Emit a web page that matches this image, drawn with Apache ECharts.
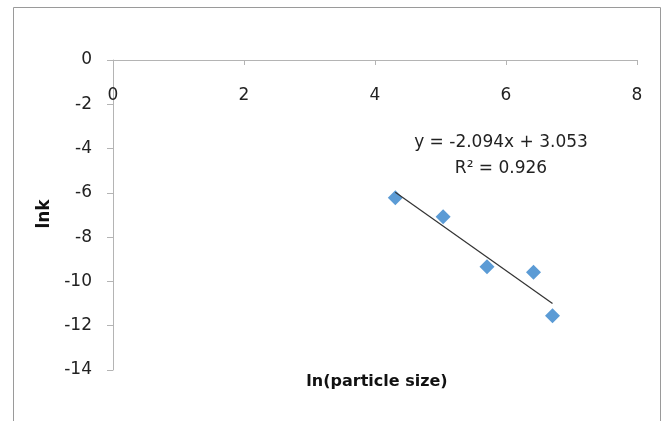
<!DOCTYPE html>
<html>
<head>
<meta charset="utf-8">
<script src="https://cdn.jsdelivr.net/npm/echarts@6/dist/echarts.min.js"></script>
<style>
html,body{margin:0;padding:0;background:#fff;}
#c{width:665px;height:421px;}
</style>
</head>
<body>
<div id="c"></div>
<script>
// Data
var lnSize = [4.31, 5.04, 5.71, 6.42, 6.71];
var lnK = [-6.22, -7.08, -9.34, -9.59, -11.55];
var xTicks = [0, 2, 4, 6, 8];
var yTicks = [0, -2, -4, -6, -8, -10, -12, -14];
var trendSlope = -2.094;
var trendIntercept = 3.053;
var equationText = 'y = -2.094x + 3.053';
var r2Text = 'R\u00B2 = 0.926';
var xName = 'ln(particle size)';
var yName = 'lnk';

var points = lnSize.map(function (x, i) { return [x, lnK[i]]; });
var xMinD = Math.min.apply(null, lnSize), xMaxD = Math.max.apply(null, lnSize);
var trend = [[xMinD, trendSlope * xMinD + trendIntercept], [xMaxD, trendSlope * xMaxD + trendIntercept]];

var font = '"DejaVu Sans", sans-serif';
var chart = echarts.init(document.getElementById('c'), null, {renderer: 'canvas'});
chart.setOption({
  animation: false,
  backgroundColor: '#fff',
  grid: {left: 113, right: 28, top: 60, bottom: 51, containLabel: false},
  xAxis: {
    type: 'value', position: 'top',
    min: xTicks[0], max: xTicks[xTicks.length - 1], interval: 2,
    axisLine: {show: true, onZero: false, lineStyle: {color: '#b4b4b4', width: 1}},
    axisTick: {show: true, inside: true, length: 5, lineStyle: {color: '#b4b4b4'}},
    axisLabel: {inside: true, margin: 27, color: '#222', fontSize: 17, fontFamily: font},
    splitLine: {show: false}
  },
  yAxis: {
    type: 'value',
    min: yTicks[yTicks.length - 1], max: yTicks[0], interval: 2,
    axisLine: {show: true, onZero: false, lineStyle: {color: '#b4b4b4', width: 1}},
    axisTick: {show: true, length: 6, lineStyle: {color: '#b4b4b4'}},
    axisLabel: {margin: 21, color: '#222', fontSize: 17, fontFamily: font},
    splitLine: {show: false}
  },
  graphic: [
    {type: 'rect', shape: {x: 13.5, y: 7.5, width: 647, height: 430}, style: {fill: null, stroke: '#9a9a9a', lineWidth: 1}, z: -10, silent: true},
    {type: 'text', x: 377, y: 382, style: {text: xName, font: 'bold 16px ' + font, fill: '#111', textAlign: 'center', textVerticalAlign: 'middle'}},
    {type: 'text', x: 45, y: 214, rotation: Math.PI / 2, style: {text: yName, font: 'bold 17px ' + font, fill: '#111', textAlign: 'center', textVerticalAlign: 'middle'}},
    {type: 'text', x: 501, y: 143, style: {text: equationText, font: '17px ' + font, fill: '#222', textAlign: 'center', textVerticalAlign: 'middle'}},
    {type: 'text', x: 501, y: 169, style: {text: r2Text, font: '17px ' + font, fill: '#222', textAlign: 'center', textVerticalAlign: 'middle'}}
  ],
  series: [
    {
      type: 'scatter', data: points, symbol: 'diamond', symbolSize: 15,
      itemStyle: {color: '#5b9bd5', opacity: 1}, z: 2
    },
    {
      type: 'line', data: trend, symbol: 'none', showSymbol: false,
      lineStyle: {color: '#333333', width: 1.2}, z: 3
    }
  ]
});
</script>
</body>
</html>
